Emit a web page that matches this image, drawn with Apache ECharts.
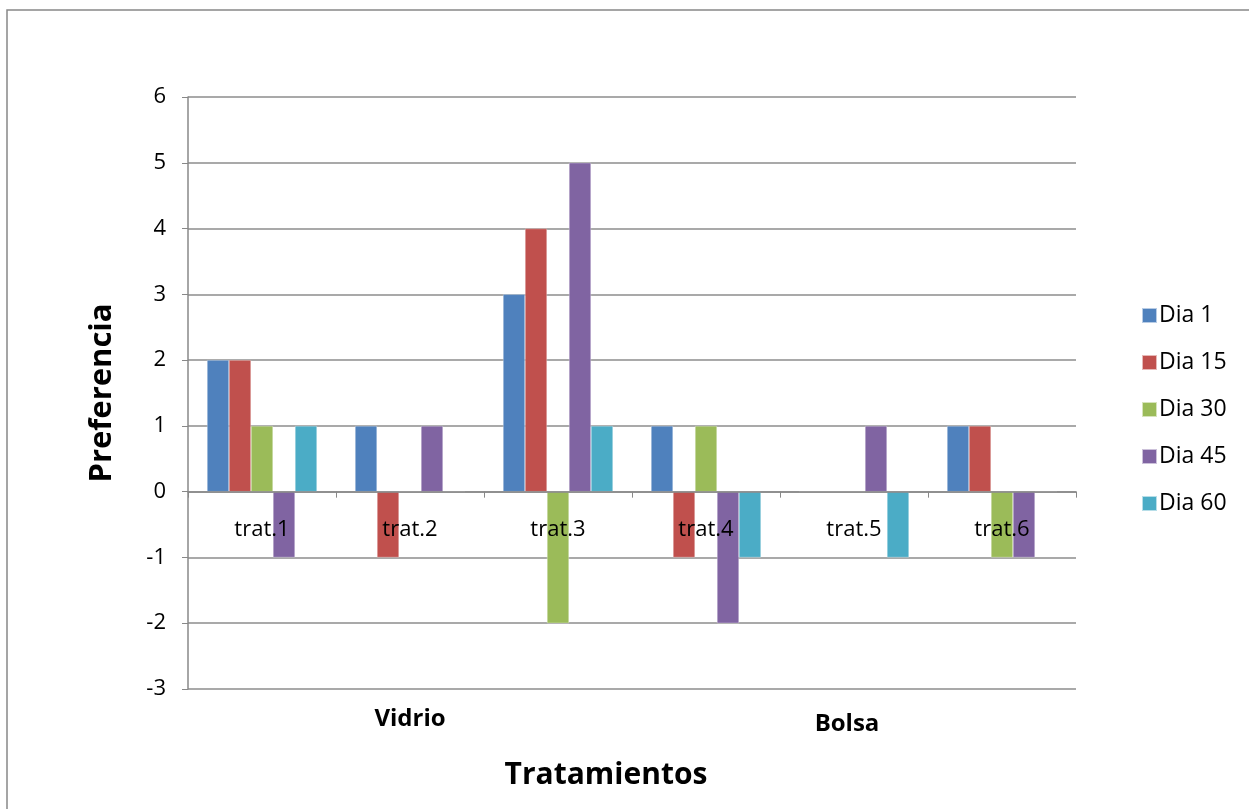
<!DOCTYPE html>
<html>
<head>
<meta charset="utf-8">
<script src="https://cdn.jsdelivr.net/npm/echarts@6/dist/echarts.min.js"></script>
<style>
  html, body { margin: 0; padding: 0; background: #fff; }
  #chart { width: 1249px; height: 809px; }
</style>
</head>
<body>
<div id="chart"></div>
<script>
const categories = ['trat.1', 'trat.2', 'trat.3', 'trat.4', 'trat.5', 'trat.6']
const groups = ['Vidrio', 'Bolsa']
const dia1 = [2, 1, 3, 1, 0, 1]
const dia15 = [2, -1, 4, -1, 0, 1]
const dia30 = [1, 0, -2, 1, 0, -1]
const dia45 = [-1, 1, 5, -2, 1, -1]
const dia60 = [1, 0, 1, -1, -1, 0]
const seriesNames = ['Dia 1', 'Dia 15', 'Dia 30', 'Dia 45', 'Dia 60']
const seriesData = [dia1, dia15, dia30, dia45, dia60]

const font = '"Open Sans", "Noto Sans", sans-serif'
const chart = echarts.init(document.getElementById('chart'))

// grid 97..689 covers -3..6, the zero line is 3 units above the bottom
const zeroOffset = -(592 / 9) * 3

const groupText = { fontSize: 24, fontWeight: 'bold', color: '#000', fontFamily: font }

const option = {
  animation: false,
  color: ['#4F81BD', '#C0504D', '#9BBB59', '#8064A2', '#4BACC6'],
  textStyle: { fontFamily: font, color: '#000' },
  grid: { left: 188, right: 173, top: 97, bottom: 120 },
  legend: {
    orient: 'vertical',
    left: 1136,
    top: 299,
    itemWidth: 15,
    itemHeight: 15,
    itemGap: 24,
    icon: 'rect',
    textStyle: { fontSize: 23, fontFamily: font, color: '#000', padding: [0, 0, 0, -3] },
    data: seriesNames
  },
  xAxis: [
    {
      type: 'category',
      data: categories,
      z: 10,
      offset: zeroOffset,
      axisLine: { onZero: false, lineStyle: { color: '#888', width: 1.5 } },
      axisTick: { show: true, length: 6, lineStyle: { color: '#888' } },
      axisLabel: { fontSize: 22, color: '#000', margin: 27, fontFamily: font }
    },
    {
      type: 'category',
      data: groups,
      position: 'bottom',
      gridIndex: 0,
      axisLine: { show: false },
      axisTick: { show: false },
      axisLabel: {
        margin: 18,
        formatter: v => (v === 'Bolsa' ? '{b|' + v + '}' : '{a|' + v + '}'),
        rich: {
          a: groupText,
          b: Object.assign({ padding: [5, 14, 0, 0] }, groupText)
        }
      },
      name: 'Tratamientos',
      nameLocation: 'middle',
      nameGap: 71,
      nameTextStyle: { fontSize: 30, fontWeight: 'bold', color: '#000', fontFamily: font, padding: [0, 52, 0, 0] }
    }
  ],
  yAxis: {
    type: 'value',
    min: -3,
    max: 6,
    interval: 1,
    name: 'Preferencia',
    nameLocation: 'middle',
    nameGap: 70,
    nameRotate: 90,
    nameTextStyle: { fontSize: 31, fontWeight: 'bold', color: '#000', fontFamily: font },
    axisLine: { show: true, lineStyle: { color: '#888', width: 1.5 } },
    axisTick: { show: true, length: 6, lineStyle: { color: '#888' } },
    axisLabel: { fontSize: 22, color: '#000', margin: 22, fontFamily: font },
    splitLine: { lineStyle: { color: '#8c8c8c', width: 1.5 } }
  },
  graphic: [
    {
      type: 'rect',
      shape: { x: 7, y: 10, width: 1400, height: 1000 },
      style: { fill: 'none', stroke: '#888', lineWidth: 1.5 },
      silent: true
    }
  ],
  series: seriesNames.map((name, i) => ({
    name: name,
    type: 'bar',
    xAxisIndex: 0,
    data: seriesData[i],
    barGap: '0%',
    barCategoryGap: '25.7%',
    itemStyle: { borderColor: 'rgba(255,255,255,0.6)', borderWidth: 0.5 }
  }))
}

chart.setOption(option)
</script>
</body>
</html>
